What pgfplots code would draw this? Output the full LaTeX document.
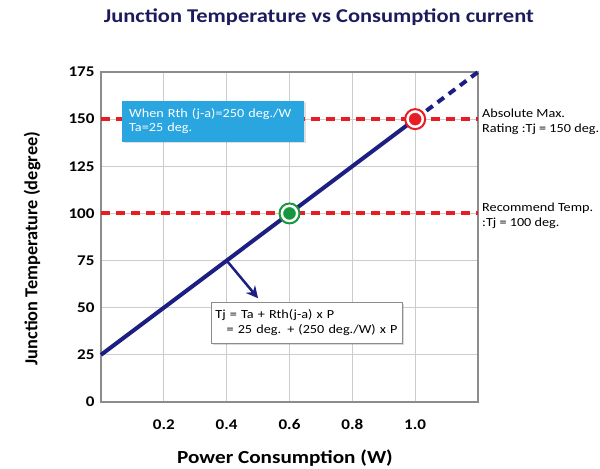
\documentclass[border=0pt]{standalone}
\usepackage{pgfplots}
\pgfplotsset{compat=1.18}
\usepackage{fontspec}
\setmainfont[FakeStretch=1.15]{Carlito}
\newfontfamily\plainfont{Carlito}
\usetikzlibrary{shadows,arrows.meta}
\definecolor{navyline}{RGB}{28,30,130}
\definecolor{titlenavy}{RGB}{28,28,92}
\definecolor{dashred}{RGB}{232,28,36}
\definecolor{dotgreen}{RGB}{22,150,62}
\definecolor{boxblue}{RGB}{41,165,224}
\begin{document}
\begin{tikzpicture}[x=1bp,y=1bp]
\begin{axis}[
  at={(0,0)}, anchor=south west,
  scale only axis, width=377bp, height=330bp,
  xmin=0, xmax=1.2, ymin=0, ymax=175,
  xtick={0.2,0.4,0.6,0.8,1.0},
  ytick={0,25,50,75,100,125,150,175},
  grid=major,
  major grid style={draw=black!20, line width=0.9bp},
  axis line style={draw=black!45, line width=1.1bp},
  major tick length=0pt,
  tick style={draw=none},
  /pgf/number format/assume math mode=true,
  tick label style={font=\bfseries\fontsize{14.9}{16}\selectfont},
  xticklabel style={/pgf/number format/.cd, fixed, fixed zerofill, precision=1, /tikz/.cd, yshift=-14bp},
  yticklabel style={xshift=-3bp},
  xlabel={Power Consumption (W)},
  ylabel={Junction Temperature (degree)},
  title={Junction Temperature vs Consumption current},
  xlabel style={at={(axis description cs:0.488,-0.17)}, anchor=center, font=\bfseries\fontsize{18.5}{20}\selectfont},
  ylabel style={at={(axis description cs:-0.183,0.465)}, anchor=center, font=\plainfont\bfseries\fontsize{18.4}{20}\selectfont},
  title style={at={(axis description cs:0.578,1.147)}, anchor=center, font=\bfseries\fontsize{19.6}{22}\selectfont, text=titlenavy},
  clip=false,
]
\addplot[dashred, line width=4bp, dash pattern=on 9bp off 6bp] coordinates {(0,150) (1.2,150)};
\addplot[dashred, line width=4bp, dash pattern=on 9bp off 6bp] coordinates {(0,100) (1.2,100)};
\addplot[navyline, line width=4bp] coordinates {(0,25) (1.0,150)};
\addplot[navyline, line width=4bp, dash pattern=on 8bp off 6bp] coordinates {(1.0,150) (1.2,175)};
\draw[navyline, line width=2.5bp, -{Stealth[length=12bp,width=12bp]}] (axis cs:0.4,75) -- (axis cs:0.5,55);
\addplot[only marks, mark=*, mark size=10bp, mark options={draw=dashred, fill=white, line width=2bp}] coordinates {(1.0,150)};
\addplot[only marks, mark=*, mark size=6bp, mark options={draw=dashred, fill=dashred}] coordinates {(1.0,150)};
\addplot[only marks, mark=*, mark size=10bp, mark options={draw=dotgreen, fill=white, line width=2bp}] coordinates {(0.6,100)};
\addplot[only marks, mark=*, mark size=6bp, mark options={draw=dotgreen, fill=dotgreen}] coordinates {(0.6,100)};
\node[fill=boxblue, text=white, font=\fontsize{12.4}{15}\selectfont, align=left, text width=168bp, inner xsep=7bp, minimum height=41bp, drop shadow={opacity=0.25, shadow xshift=1.5bp, shadow yshift=-1.5bp}] at (axis cs:0.357,149) {When Rth (j-a)=250 deg./W\\Ta=25 deg.};
\node[fill=white, draw=black!45, line width=0.8bp, text=black, font=\fontsize{12.4}{15}\selectfont, align=left, text width=182bp, inner xsep=4.5bp, minimum height=41bp, drop shadow={opacity=0.3, shadow xshift=2bp, shadow yshift=-2bp}] at (axis cs:0.654,42.2) {Tj = Ta + Rth(j-a) x P\\\hspace*{0.9em}= 25 deg. + (250 deg./W) x P};
\node[anchor=west, align=left, font=\fontsize{12.4}{15}\selectfont, inner sep=0pt, xshift=4bp] at (axis cs:1.2,148.5) {Absolute Max.\\Rating :Tj = 150 deg.};
\node[anchor=west, align=left, font=\fontsize{12.4}{15}\selectfont, inner sep=0pt, xshift=4bp] at (axis cs:1.2,98.6) {Recommend Temp.\\:Tj = 100 deg.};
\end{axis}
\pgfresetboundingbox
\path (-101,-67) rectangle (499,402);
\end{tikzpicture}
\end{document}
